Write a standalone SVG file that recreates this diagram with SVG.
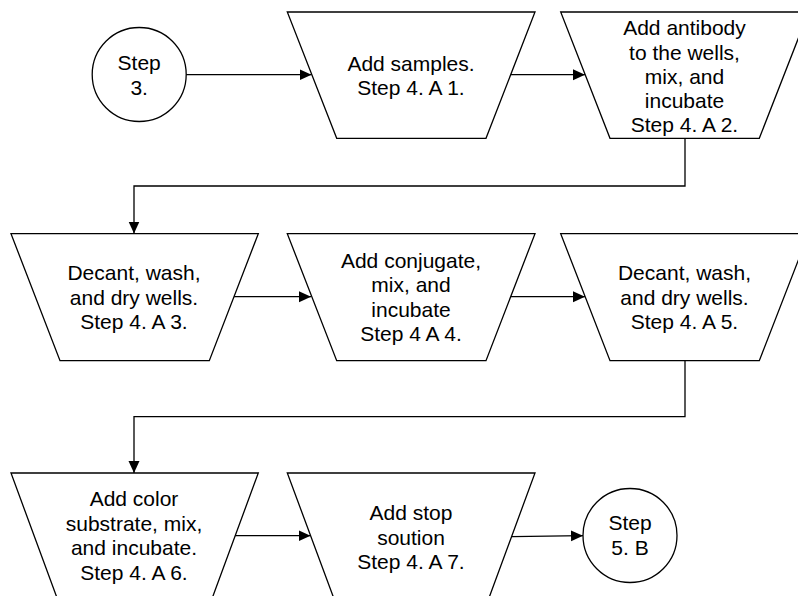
<svg xmlns="http://www.w3.org/2000/svg" width="798" height="596" viewBox="0 0 798 596">
<style>
.shape{fill:#fff;stroke:#000;stroke-width:1.3}
.conn{fill:none;stroke:#000;stroke-width:1.3}
text{font-family:"Liberation Sans",Arial,sans-serif;font-size:21px;fill:#000;text-anchor:middle}
</style>
<defs>
<marker id="arr" markerUnits="userSpaceOnUse" markerWidth="13" markerHeight="13" refX="12" refY="6.5" orient="auto">
<path d="M0,1 L12,6.5 L0,12 z" fill="#000"/>
</marker>
</defs>
<rect width="798" height="596" fill="#fff"/>
<g id="connectors">
<path class="conn" d="M186,74.7 H311.5" marker-end="url(#arr)"/>
<path class="conn" d="M511,74.7 H585" marker-end="url(#arr)"/>
<path class="conn" d="M685,138.3 V186 H134 V233.5" marker-end="url(#arr)"/>
<path class="conn" d="M234,296.7 H311" marker-end="url(#arr)"/>
<path class="conn" d="M511,296.7 H585" marker-end="url(#arr)"/>
<path class="conn" d="M685,360.7 V416.7 H134 V473" marker-end="url(#arr)"/>
<path class="conn" d="M235,535.7 H310.5" marker-end="url(#arr)"/>
<path class="conn" d="M512,536.7 L583,535.7" marker-end="url(#arr)"/>
</g>
<g id="step3">
<circle class="shape" cx="139.2" cy="74.5" r="47"/>
<text x="139.2" y="69.5">Step</text>
<text x="139.2" y="94.5">3.</text>
</g>
<g id="a1">
<polygon class="shape" points="287.3,12 535,12 486,138.3 336.7,138.3"/>
<text x="411" y="70.5">Add samples.</text>
<text x="411" y="95">Step 4. A 1.</text>
</g>
<g id="a2">
<polygon class="shape" points="560.7,12 808.6,12 759.3,138.3 610,138.3"/>
<text x="684.5" y="35">Add antibody</text>
<text x="684.5" y="59.5">to the wells,</text>
<text x="684.5" y="84">mix, and</text>
<text x="684.5" y="108.3">incubate</text>
<text x="684.5" y="132">Step 4. A 2.</text>
</g>
<g id="a3">
<polygon class="shape" points="11,233.7 258.3,233.7 209.3,360.7 60,360.7"/>
<text x="134" y="280">Decant, wash,</text>
<text x="134" y="304.5">and dry wells.</text>
<text x="134" y="329">Step 4. A 3.</text>
</g>
<g id="a4">
<polygon class="shape" points="287.3,233.7 535,233.7 486,360.7 336.7,360.7"/>
<text x="411" y="267.5">Add conjugate,</text>
<text x="411" y="292">mix, and</text>
<text x="411" y="316.5">incubate</text>
<text x="411" y="341">Step 4 A 4.</text>
</g>
<g id="a5">
<polygon class="shape" points="560.7,233.7 808.6,233.7 759.3,360.7 610,360.7"/>
<text x="684.5" y="280">Decant, wash,</text>
<text x="684.5" y="304.5">and dry wells.</text>
<text x="684.5" y="329">Step 4. A 5.</text>
</g>
<g id="a6">
<polygon class="shape" points="11,473 258.3,473 209.3,606 60,606"/>
<text x="134" y="506">Add color</text>
<text x="134" y="530.5">substrate, mix,</text>
<text x="134" y="555">and incubate.</text>
<text x="134" y="580">Step 4. A 6.</text>
</g>
<g id="a7">
<polygon class="shape" points="287.3,473 535,473 486,606 336.7,606"/>
<text x="411" y="520">Add stop</text>
<text x="411" y="544.5">soution</text>
<text x="411" y="568.5">Step 4. A 7.</text>
</g>
<g id="step5b">
<circle class="shape" cx="630" cy="535.5" r="47"/>
<text x="630" y="530">Step</text>
<text x="630" y="555">5. B</text>
</g>
</svg>
